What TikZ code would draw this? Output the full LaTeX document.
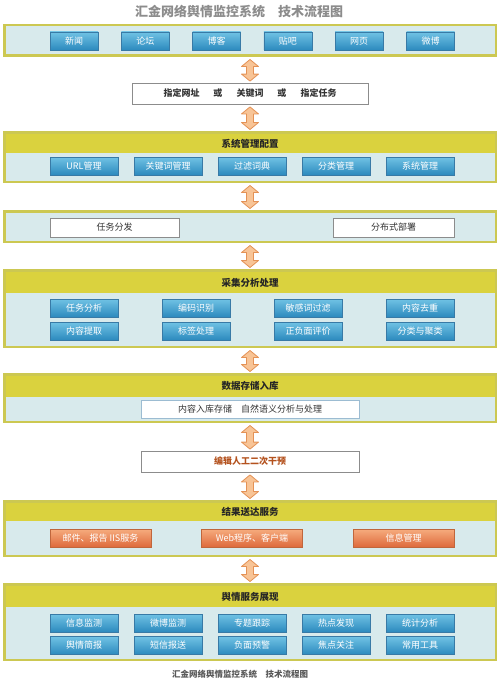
\documentclass[tikz,border=0pt]{standalone}
\usepackage{fontspec}
\setmainfont{Noto Sans CJK SC}
\usepackage{tikz}
\usetikzlibrary{calc}
\definecolor{panelline}{RGB}{204,200,82}
\definecolor{panelbg}{RGB}{216,234,236}
\definecolor{bandfill}{RGB}{218,210,62}
\definecolor{btntop}{RGB}{112,194,228}
\definecolor{btnbot}{RGB}{44,138,190}
\definecolor{btnedge}{RGB}{56,122,166}
\definecolor{ortop}{RGB}{246,172,126}
\definecolor{orbot}{RGB}{222,106,60}
\definecolor{oredge}{RGB}{192,102,60}
\definecolor{arrowfill}{RGB}{248,196,150}
\definecolor{arrowedge}{RGB}{228,146,86}
\definecolor{boxedge}{RGB}{140,140,140}
\definecolor{edittext}{RGB}{180,82,30}
\tikzset{
  panel/.style={draw=panelline, line width=2.5pt, fill=panelbg, minimum width=491.5pt, inner sep=0pt},
  band/.style={fill=bandfill, minimum width=489pt, anchor=north, yshift=-2.5pt, inner sep=0pt,
    text=black!85, font=\fontsize{9.5}{11}\selectfont\bfseries},
  bluebtn/.style={draw=btnedge, line width=0.6pt, top color=btntop, bottom color=btnbot, text=white,
    minimum height=18pt, inner sep=0pt, font=\fontsize{9}{10}\selectfont},
  orangebtn/.style={draw=oredge, line width=0.6pt, top color=ortop, bottom color=orbot, text=white,
    minimum width=101pt, minimum height=18pt, inner sep=0pt, font=\fontsize{9}{10}\selectfont},
  whitebox/.style={draw=boxedge, line width=0.8pt, fill=white, inner sep=0pt, text=black!80,
    font=\fontsize{9}{10}\selectfont},
  flowarrow/.style={fill=arrowfill, draw=arrowedge, line width=0.8pt, line join=round},
}
\newcommand{\flowlink}[2]{% {upper node}{lower node}
  \draw[flowarrow] let \p1=(#1.south), \p2=(#2.north) in
    (\x1,\y1-2.5pt) -- (\x1+8.5pt,\y1-9.5pt) -- (\x1+3.5pt,\y1-9.5pt) -- (\x1+3.5pt,\y2+8.5pt)
    -- (\x1+8.5pt,\y2+8.5pt) -- (\x1,\y2+1.5pt) -- (\x1-8.5pt,\y2+8.5pt) -- (\x1-3.5pt,\y2+8.5pt)
    -- (\x1-3.5pt,\y1-9.5pt) -- (\x1-8.5pt,\y1-9.5pt) -- cycle; % double arrow
}

\begin{document}
\begin{tikzpicture}[x=1pt, y=-1pt]
  \useasboundingbox (0,0) rectangle (500,685);
  \node[text=black!45, font=\fontsize{13}{15}\selectfont\bfseries] (title) at (239,12) {汇金网络舆情监控系统　技术流程图};

  % sources
  \node[panel, minimum height=30.5pt] (src) at (250,40.5) {};
  \foreach \lab [count=\i from 0] in {新闻,论坛,博客,贴吧,网页,微博}
    \node[bluebtn, minimum width=48pt] (src\i) at (74+71.3*\i,41) {\lab};

  \node[whitebox, minimum width=236pt, minimum height=21pt, font=\fontsize{9}{10}\selectfont\bfseries] (query) at (250,93.5)
    {指定网址\hspace{14pt}或\hspace{14pt}关键词\hspace{14pt}或\hspace{14pt}指定任务};

  % configuration
  \node[panel, minimum height=49.5pt] (cfg) at (250,157) {};
  \node[band, minimum height=19.5pt] (cfghead) at (cfg.north) {系统管理配置};
  \foreach \lab [count=\i from 0] in {URL管理,关键词管理,过滤词典,分类管理,系统管理}
    \node[bluebtn, minimum width=68pt] (cfg\i) at (84+84*\i,166) {\lab};

  % distribution
  \node[panel, minimum height=30.5pt] (dist) at (250,226.5) {};
  \node[whitebox, minimum width=129pt, minimum height=19pt] (task) at (114.5,227.5) {任务分发};
  \node[whitebox, minimum width=121pt, minimum height=19pt] (deploy) at (393.5,227.5) {分布式部署};

  % collection and analysis
  \node[panel, minimum height=76.5pt] (coll) at (250,308.5) {};
  \node[band, minimum height=21.5pt] (collhead) at (coll.north) {采集分析处理};
  \foreach \lab [count=\i from 0] in {任务分析,编码识别,敏感词过滤,内容去重}
    \node[bluebtn, minimum width=68pt] (colla\i) at (84+112*\i,308) {\lab};
  \foreach \lab [count=\i from 0] in {内容提取,标签处理,正负面评价,分类与聚类}
    \node[bluebtn, minimum width=68pt] (collb\i) at (84+112*\i,331) {\lab};

  % storage
  \node[panel, minimum height=47.5pt] (store) at (250,398) {};
  \node[band, minimum height=21pt] (storehead) at (store.north) {数据存储入库};
  \node[whitebox, draw=btnedge!50, minimum width=218pt, minimum height=18pt] (nlp) at (250,409)
    {内容入库存储　自然语义分析与处理};

  \node[whitebox, minimum width=218pt, minimum height=21pt, text=edittext, font=\fontsize{9}{10}\selectfont\bfseries] (edit) at (250,461.5)
    {编辑人工二次干预};

  % delivery
  \node[panel, minimum height=54.5pt] (serv) at (250,528.5) {};
  \node[band, minimum height=18.5pt] (servhead) at (serv.north) {结果送达服务};
  \foreach \lab [count=\i from 0] in {邮件、报告 IIS服务,Web程序、客户端,信息管理}
    \node[orangebtn] (serv\i) at (100.5+151.5*\i,538) {\lab};

  % presentation
  \node[panel, minimum height=75.5pt] (show) at (250,622) {};
  \node[band, minimum height=21.5pt] (showhead) at (show.north) {舆情服务展现};
  \foreach \lab [count=\i from 0] in {信息监测,微博监测,专题跟踪,热点发现,统计分析}
    \node[bluebtn, minimum width=68pt] (showa\i) at (84+84*\i,623) {\lab};
  \foreach \lab [count=\i from 0] in {舆情简报,短信报送,负面预警,焦点关注,常用工具}
    \node[bluebtn, minimum width=68pt] (showb\i) at (84+84*\i,645.5) {\lab};

  \node[text=black!65, font=\fontsize{8.5}{10}\selectfont\bfseries] (caption) at (240,674) {汇金网络舆情监控系统　技术流程图};

  \flowlink{src}{query};
  \flowlink{query}{cfg};
  \flowlink{cfg}{dist};
  \flowlink{dist}{coll};
  \flowlink{coll}{store};
  \flowlink{store}{edit};
  \flowlink{edit}{serv};
  \flowlink{serv}{show};
\end{tikzpicture}
\end{document}
